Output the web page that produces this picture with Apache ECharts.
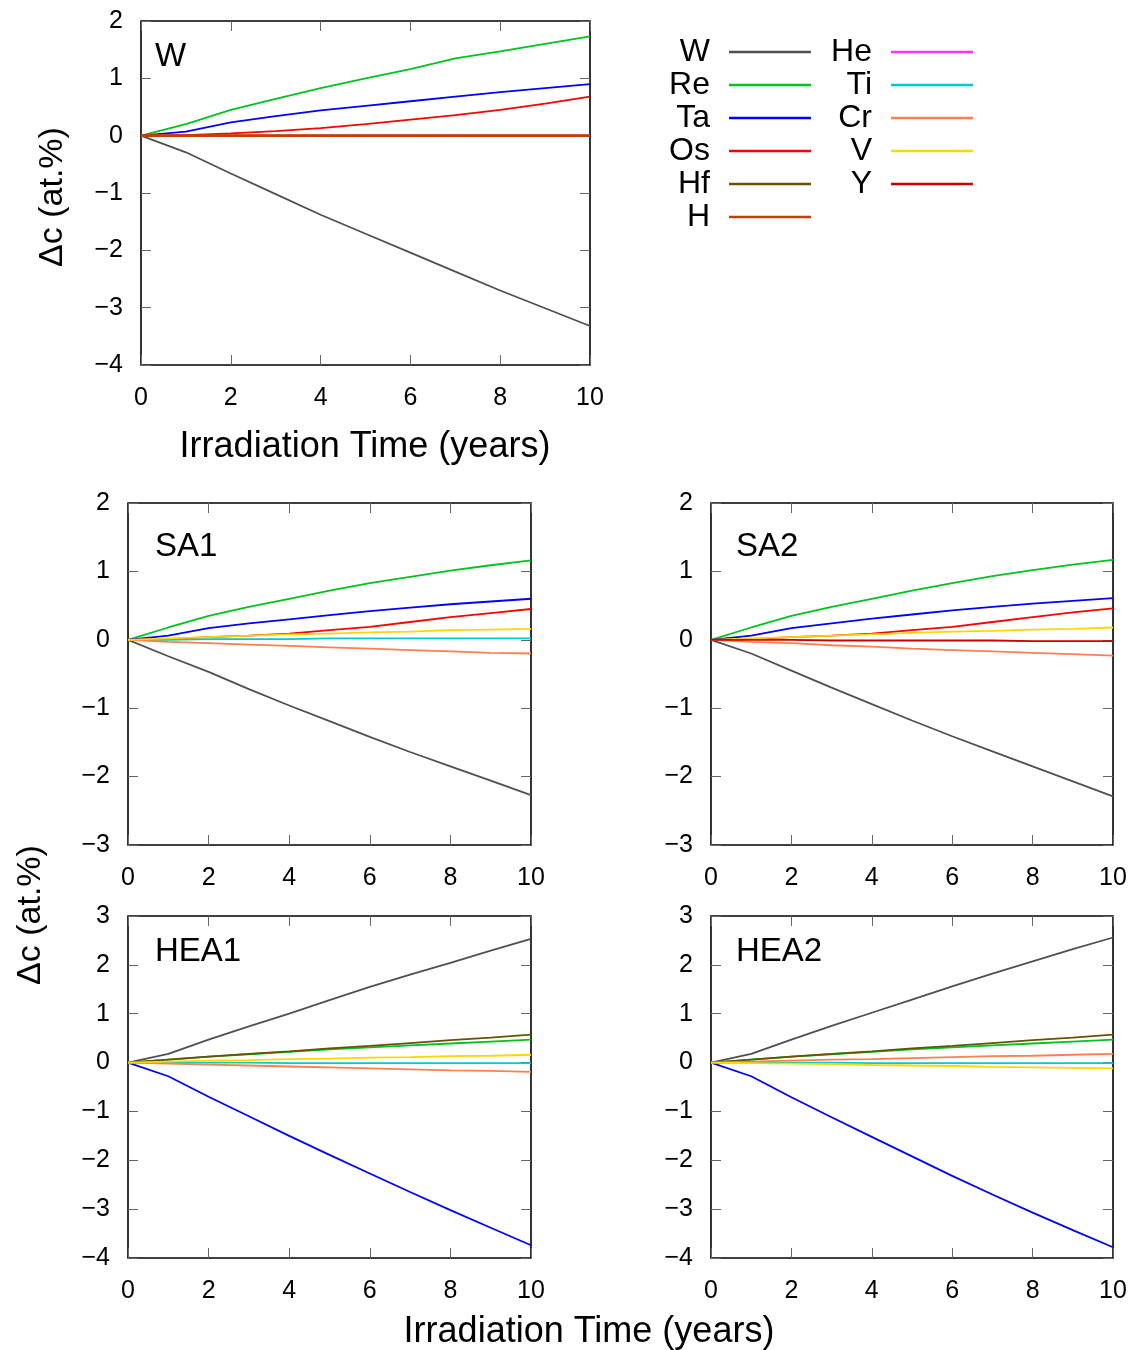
<!DOCTYPE html>
<html><head><meta charset="utf-8">
<script src="https://cdn.jsdelivr.net/npm/echarts@6/dist/echarts.min.js"></script>
<style>html,body{margin:0;padding:0;background:#fff}#c{width:1137px;height:1350px}</style>
</head><body><div id="c"></div>
<script>
// ---------- data ----------
const years = [0,1,2,3,4,5,6,7,8,9,10];
const elements1 = ['W','Re','Ta','Os','Hf','H'];
const elements2 = ['He','Ti','Cr','V','Y'];

// Panel W
const W_W  = [0,-0.29,-0.66,-1.02,-1.38,-1.71,-2.04,-2.37,-2.70,-3.01,-3.32];
const W_Re = [0,0.20,0.45,0.64,0.83,1.00,1.16,1.35,1.47,1.60,1.73];
const W_Ta = [0,0.07,0.23,0.34,0.44,0.52,0.60,0.68,0.76,0.83,0.90];
const W_Os = [0,0.01,0.04,0.08,0.13,0.20,0.28,0.36,0.45,0.56,0.68];
const W_Hf = [0,0,0,0,0,0,0,0,0,0,0];
const W_He = [0,0,0,0,0,0,0,0,0,0,0];
const W_H  = [0,0,0,0,0,0,0,0,0,0,0];

// Panel SA1
const SA1_W  = [0,-0.24,-0.47,-0.72,-0.96,-1.19,-1.42,-1.64,-1.85,-2.06,-2.27];
const SA1_Re = [0,0.18,0.35,0.48,0.60,0.72,0.83,0.92,1.01,1.09,1.16];
const SA1_Ta = [0,0.06,0.17,0.24,0.30,0.36,0.42,0.47,0.52,0.56,0.60];
const SA1_Os = [0,0.01,0.04,0.06,0.09,0.14,0.19,0.26,0.33,0.39,0.45];
const SA1_Ti = [0,0.00,0.01,0.01,0.01,0.02,0.02,0.02,0.02,0.02,0.02];
const SA1_Cr = [0,-0.03,-0.05,-0.07,-0.09,-0.11,-0.13,-0.15,-0.17,-0.19,-0.20];
const SA1_V  = [0,0.02,0.04,0.06,0.08,0.09,0.11,0.12,0.14,0.15,0.16];

// Panel SA2
const SA2_W  = [0,-0.20,-0.45,-0.70,-0.94,-1.18,-1.41,-1.63,-1.85,-2.07,-2.29];
const SA2_Re = [0,0.18,0.35,0.48,0.60,0.72,0.83,0.93,1.02,1.10,1.17];
const SA2_Ta = [0,0.06,0.17,0.24,0.31,0.37,0.43,0.48,0.53,0.57,0.61];
const SA2_Os = [0,0.01,0.04,0.06,0.09,0.14,0.19,0.26,0.33,0.40,0.46];
const SA2_Cr = [0,-0.03,-0.05,-0.08,-0.10,-0.13,-0.15,-0.17,-0.19,-0.21,-0.23];
const SA2_V  = [0,0.02,0.04,0.06,0.08,0.10,0.12,0.13,0.15,0.16,0.18];
const SA2_Y  = [0,0,0,-0.01,-0.01,-0.01,-0.01,-0.01,-0.02,-0.02,-0.02];

// Panel HEA1
const HEA1_W  = [0,0.18,0.47,0.74,1.00,1.28,1.55,1.80,2.04,2.29,2.53];
const HEA1_Re = [0,0.06,0.12,0.17,0.22,0.27,0.31,0.35,0.39,0.43,0.47];
const HEA1_Ta = [0,-0.28,-0.70,-1.10,-1.50,-1.89,-2.27,-2.65,-3.02,-3.38,-3.74];
const HEA1_Hf = [0,0.06,0.12,0.18,0.23,0.29,0.34,0.40,0.46,0.51,0.57];
const HEA1_Ti = [0,0,0,0,-0.01,-0.01,-0.01,-0.01,-0.01,-0.01,-0.01];
const HEA1_Cr = [0,-0.02,-0.04,-0.06,-0.08,-0.10,-0.12,-0.14,-0.16,-0.17,-0.19];
const HEA1_V  = [0,0.02,0.04,0.05,0.07,0.08,0.10,0.11,0.13,0.14,0.16];

// Panel HEA2
const HEA2_W  = [0,0.18,0.47,0.75,1.02,1.29,1.56,1.82,2.07,2.32,2.56];
const HEA2_Re = [0,0.06,0.12,0.17,0.22,0.27,0.31,0.35,0.39,0.43,0.47];
const HEA2_Ta = [0,-0.28,-0.71,-1.12,-1.52,-1.92,-2.32,-2.70,-3.07,-3.43,-3.78];
const HEA2_Hf = [0,0.06,0.12,0.18,0.23,0.29,0.34,0.40,0.46,0.51,0.57];
const HEA2_Ti = [0,0,0,0,-0.01,-0.01,-0.01,-0.01,-0.01,-0.01,-0.01];
const HEA2_Cr = [0,0.02,0.04,0.06,0.07,0.09,0.11,0.13,0.14,0.16,0.18];
const HEA2_V  = [0,-0.01,-0.02,-0.03,-0.05,-0.06,-0.07,-0.09,-0.10,-0.11,-0.12];

// ---------- styling ----------
const FONT = 'Liberation Sans, Arial, Helvetica, sans-serif';
const colors = {W:'#505050',Re:'#00c31e',Ta:'#0000ff',Os:'#ff0000',Hf:'#665200',H:'#c04000',
  He:'#ff33ff',Ti:'#00cccc',Cr:'#ff7f50',V:'#ffd700',Y:'#cc0000'};

const panels = [
  {label:'W', box:{left:141,top:21,width:449,height:344}, ymin:-4, ymax:2, labelOff:[14,19],
   series:[['W',W_W],['Re',W_Re],['Ta',W_Ta],['Os',W_Os],['Hf',W_Hf],['He',W_He],['H',W_H]]},
  {label:'SA1', box:{left:128,top:503,width:403,height:342}, ymin:-3, ymax:2, labelOff:[27,27],
   series:[['W',SA1_W],['Re',SA1_Re],['Ta',SA1_Ta],['Os',SA1_Os],['Ti',SA1_Ti],['Cr',SA1_Cr],['V',SA1_V]]},
  {label:'SA2', box:{left:711,top:503,width:402,height:342}, ymin:-3, ymax:2, labelOff:[25,27],
   series:[['W',SA2_W],['Re',SA2_Re],['Ta',SA2_Ta],['Os',SA2_Os],['Cr',SA2_Cr],['V',SA2_V],['Y',SA2_Y]]},
  {label:'HEA1', box:{left:128,top:916,width:403,height:342}, ymin:-4, ymax:3, labelOff:[27,19],
   series:[['W',HEA1_W],['Re',HEA1_Re],['Ta',HEA1_Ta],['Hf',HEA1_Hf],['Ti',HEA1_Ti],['Cr',HEA1_Cr],['V',HEA1_V]]},
  {label:'HEA2', box:{left:711,top:916,width:402,height:342}, ymin:-4, ymax:3, labelOff:[25,19],
   series:[['W',HEA2_W],['Re',HEA2_Re],['Ta',HEA2_Ta],['Hf',HEA2_Hf],['Ti',HEA2_Ti],['Cr',HEA2_Cr],['V',HEA2_V]]}
];

const fmt = v => v < 0 ? '\u2212' + Math.abs(v) : String(v);
const tickStyle = {inside:true, length:10, lineStyle:{color:'#666', width:1}};

const grid = [], xAxis = [], yAxis = [], series = [], graphic = [];
panels.forEach((p, i) => {
  grid.push(Object.assign({show:true, borderColor:'#000', borderWidth:1.6, containLabel:false}, p.box));
  const xa = {gridIndex:i, type:'value', min:0, max:10, interval:2,
    axisLine:{show:false, onZero:false}, axisTick:tickStyle, splitLine:{show:false}};
  xAxis.push(Object.assign({}, xa, {position:'bottom',
    axisLabel:{fontSize:25, color:'#000', margin:21, fontFamily:FONT}}));
  xAxis.push(Object.assign({}, xa, {position:'top', axisLabel:{show:false}}));
  const ya = {gridIndex:i, type:'value', min:p.ymin, max:p.ymax, interval:1,
    axisLine:{show:false, onZero:false}, axisTick:tickStyle, splitLine:{show:false}};
  yAxis.push(Object.assign({}, ya, {position:'left',
    axisLabel:{fontSize:25, color:'#000', margin:18, fontFamily:FONT, formatter:fmt}}));
  yAxis.push(Object.assign({}, ya, {position:'right', axisLabel:{show:false}}));
  p.series.forEach(([name, arr]) => {
    const w = (i === 0 && name === 'H') ? 2.6 : 1.8;
    series.push({type:'line', name, xAxisIndex:2*i, yAxisIndex:2*i,
      data: years.map((x, k) => [x, arr[k]]),
      symbol:'none', showSymbol:false, animation:false,
      lineStyle:{color:colors[name], width:w}, itemStyle:{color:colors[name]}});
  });
  graphic.push({type:'text', left:p.box.left + p.labelOff[0], top:p.box.top + p.labelOff[1],
    style:{text:p.label, font:'33px ' + FONT, fill:'#000'}});
});

graphic.push({type:'text', x:365, y:447, style:{text:'Irradiation Time (years)', font:'36px ' + FONT, fill:'#000', align:'center', verticalAlign:'middle'}});
graphic.push({type:'text', x:589, y:1332, style:{text:'Irradiation Time (years)', font:'36px ' + FONT, fill:'#000', align:'center', verticalAlign:'middle'}});
graphic.push({type:'text', x:53, y:197, rotation:Math.PI/2, style:{text:'\u0394c (at.%)', font:'34px ' + FONT, fill:'#000', align:'center', verticalAlign:'middle'}});
graphic.push({type:'text', x:31, y:915, rotation:Math.PI/2, style:{text:'\u0394c (at.%)', font:'34px ' + FONT, fill:'#000', align:'center', verticalAlign:'middle'}});

const legendBase = {orient:'vertical', align:'right', icon:'rect', itemWidth:82, itemHeight:2.5, itemGap:0,
  padding:0, selectedMode:false, top:35.5,
  textStyle:{fontSize:32, fontFamily:FONT, color:'#000', lineHeight:33, padding:[0,14,0,0]}};
const legend = [
  Object.assign({}, legendBase, {right:1137-811, data:elements1}),
  Object.assign({}, legendBase, {right:1137-973, data:elements2})
];

const chart = echarts.init(document.getElementById('c'), null, {renderer:'canvas'});
chart.setOption({backgroundColor:'#fff', animation:false, grid, xAxis, yAxis, series, legend, graphic});
</script></body></html>
